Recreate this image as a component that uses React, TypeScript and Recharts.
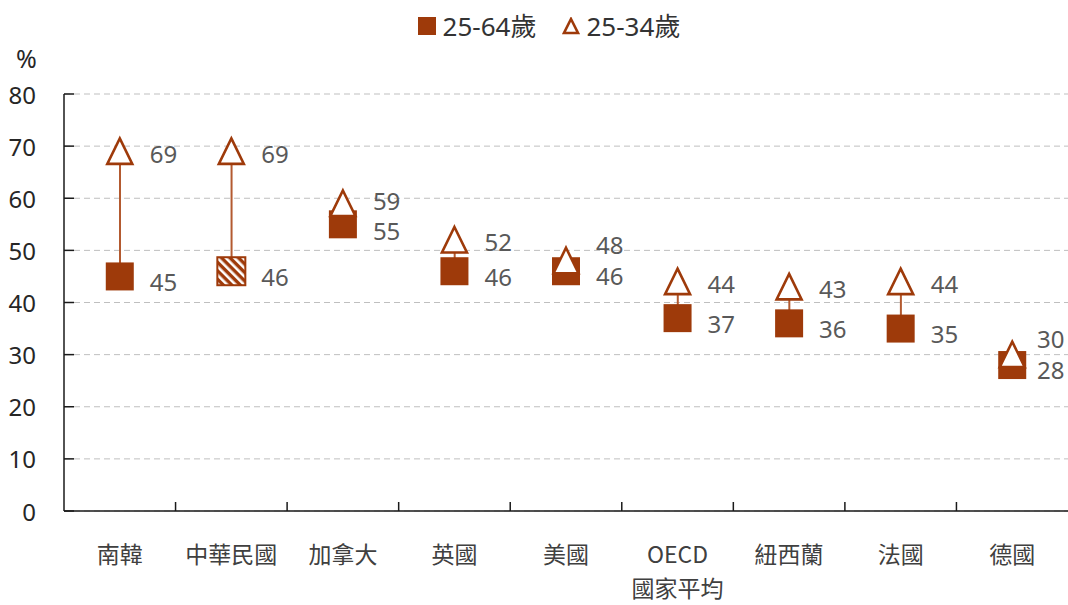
import React from 'react';
import {
  ComposedChart,
  Bar,
  Line,
  LabelList,
  XAxis,
  YAxis,
  CartesianGrid,
} from 'recharts';

const categories = ['南韓', '中華民國', '加拿大', '英國', '美國', 'OECD\n國家平均', '紐西蘭', '法國', '德國'];
const age2564 = [45, 46, 55, 46, 46, 37, 36, 35, 28];
const age2534 = [69, 69, 59, 52, 48, 44, 43, 44, 30];
const yTicks = [0, 10, 20, 30, 40, 50, 60, 70, 80];
const hatchedCategory = '中華民國';

const data = categories.map((name, i) => ({
  name,
  sq: age2564[i],
  tri: age2534[i],
}));

const WIDTH = 1068;
const HEIGHT = 605;
const PLOT_LEFT = 64;
const PLOT_RIGHT = 1068;
const BAND = (PLOT_RIGHT - PLOT_LEFT) / categories.length;

const BROWN = '#9E3A0A';
const LINE_BROWN = '#B35A30';
const LABEL_GRAY = '#595959';
const NUM_FONT = '"Noto Sans", "DejaVu Sans", sans-serif';
const CJK_FONT = '"Noto Sans CJK TC", "Noto Sans", sans-serif';

// y pixel per value unit, used only to nudge overlapping labels apart
const PX_PER_UNIT = (511 - 94) / 80;

function SquareDot(props: any) {
  const { cx, cy, index } = props;
  if (cx == null || cy == null) return null;
  const s = 28;
  const hatched = categories[index] === hatchedCategory;
  return (
    <g key={`sq-${index}`}>
      {hatched && (
        <defs>
          <pattern
            id="hatch"
            patternUnits="userSpaceOnUse"
            width="6"
            height="6"
            patternTransform="rotate(-45)"
          >
            <rect width="6" height="6" fill={BROWN} />
            <rect width="2.6" height="6" fill="#ffffff" />
          </pattern>
        </defs>
      )}
      <rect
        x={cx - s / 2}
        y={cy - s / 2}
        width={s}
        height={s}
        fill={hatched ? 'url(#hatch)' : BROWN}
        stroke={BROWN}
        strokeWidth={hatched ? 2 : 0}
      />
    </g>
  );
}

function TriangleDot(props: any) {
  const { cx, cy, index } = props;
  if (cx == null || cy == null) return null;
  return (
    <path
      key={`tri-${index}`}
      d={`M${cx},${cy - 13} L${cx + 12.5},${cy + 12.5} L${cx - 12.5},${cy + 12.5} Z`}
      fill="#ffffff"
      stroke={BROWN}
      strokeWidth={2.6}
      strokeLinejoin="miter"
    />
  );
}

function labelX(x: number) {
  return Math.min(x + 30, WIDTH - 31);
}

function SquareLabel(props: any) {
  const { x, y, value, index } = props;
  const diff = age2534[index] - age2564[index];
  return (
    <text
      x={labelX(x)}
      y={y + (diff <= 3 ? 4 : diff <= 5 ? 6 : 5)}
      fill={LABEL_GRAY}
      fontSize={24}
      fontFamily={NUM_FONT}
      dominantBaseline="central"
    >
      {value}
    </text>
  );
}

function TriangleLabel(props: any) {
  const { x, y, value, index } = props;
  const diff = age2534[index] - age2564[index];
  let ly = y + 2;
  if (diff <= 3) {
    const sqY = y + diff * PX_PER_UNIT;
    ly = Math.min(y, sqY - 27);
  } else if (diff <= 5) {
    ly = y - 3;
  }
  return (
    <text
      x={labelX(x)}
      y={ly}
      fill={LABEL_GRAY}
      fontSize={24}
      fontFamily={NUM_FONT}
      dominantBaseline="central"
    >
      {value}
    </text>
  );
}

function CategoryTick(props: any) {
  const { x, y, payload, index } = props;
  const lines = String(payload.value).split('\n');
  return (
    <g>
      {index > 0 && (
        <line x1={x - BAND / 2} x2={x - BAND / 2} y1={y} y2={y - 9} stroke="#1a1a1a" strokeWidth={1.5} />
      )}
      {lines.map((t, i) => (
        <text
          key={t}
          x={x}
          y={y + 42 + i * 34}
          textAnchor="middle"
          dominantBaseline="central"
          fill="#404040"
          fontSize={23}
          fontFamily={CJK_FONT}
        >
          {t}
        </text>
      ))}
    </g>
  );
}

function ValueTick(props: any) {
  const { x, y, payload } = props;
  return (
    <g>
      <line x1={x} x2={x + 10} y1={y} y2={y} stroke="#1a1a1a" strokeWidth={1.5} />
      <text
        x={x - 28}
        y={y}
        textAnchor="end"
        dominantBaseline="central"
        fill="#262626"
        fontSize={24}
        fontFamily={NUM_FONT}
      >
        {payload.value}
      </text>
    </g>
  );
}

function LegendBox() {
  return (
    <div
      style={{
        position: 'absolute',
        top: 9,
        left: 0,
        width: WIDTH,
        display: 'flex',
        justifyContent: 'center',
        alignItems: 'center',
        fontFamily: NUM_FONT,
        fontSize: 26,
        color: '#333333',
        lineHeight: '32px',
        paddingLeft: 30,
        boxSizing: 'border-box',
      }}
    >
      <svg width={18} height={18} style={{ marginRight: 7 }}>
        <rect x={0} y={0} width={18} height={18} fill={BROWN} />
      </svg>
      <span>25-64<span style={{ fontFamily: CJK_FONT }}>歲</span></span>
      <svg width={18} height={18} style={{ marginLeft: 25, marginRight: 7 }}>
        <path d="M9,2 L16,16 L2,16 Z" fill="#fff" stroke={BROWN} strokeWidth={2.6} />
      </svg>
      <span>25-34<span style={{ fontFamily: CJK_FONT }}>歲</span></span>
    </div>
  );
}

export default function App() {
  return (
    <div style={{ position: 'absolute', left: 0, top: 0, width: WIDTH, height: HEIGHT, background: '#fff' }}>
      <LegendBox />
      <div
        style={{
          position: 'absolute',
          left: 16,
          top: 41,
          fontFamily: NUM_FONT,
          fontSize: 25,
          color: '#262626',
        }}
      >
        %
      </div>
      <ComposedChart
        width={WIDTH}
        height={HEIGHT}
        data={data}
        margin={{ top: 94, right: WIDTH - PLOT_RIGHT, left: 14, bottom: 14 }}
      >
        <CartesianGrid vertical={false} stroke="#BFBFBF" strokeDasharray="6 4" />
        <XAxis
          dataKey="name"
          height={80}
          interval={0}
          tickLine={false}
          tickSize={0}
          tickMargin={0}
          axisLine={{ stroke: '#1a1a1a', strokeWidth: 1.5 }}
          tick={<CategoryTick />}
        />
        <YAxis
          width={50}
          domain={[0, 80]}
          ticks={yTicks}
          interval={0}
          tickLine={false}
          tickSize={0}
          tickMargin={0}
          axisLine={{ stroke: '#1a1a1a', strokeWidth: 1.5 }}
          tick={<ValueTick />}
        />
        <Bar
          dataKey={(d: any) => [d.sq, d.tri]}
          barSize={2}
          fill={LINE_BROWN}
          isAnimationActive={false}
        />
        <Line
          dataKey="sq"
          stroke="none"
          dot={(p: any) => <SquareDot key={`sqd-${p.index}`} {...p} />}
          activeDot={false}
          isAnimationActive={false}
        >
          <LabelList dataKey="sq" content={<SquareLabel />} />
        </Line>
        <Line
          dataKey="tri"
          stroke="none"
          dot={(p: any) => <TriangleDot key={`trd-${p.index}`} {...p} />}
          activeDot={false}
          isAnimationActive={false}
        >
          <LabelList dataKey="tri" content={<TriangleLabel />} />
        </Line>
      </ComposedChart>
    </div>
  );
}
